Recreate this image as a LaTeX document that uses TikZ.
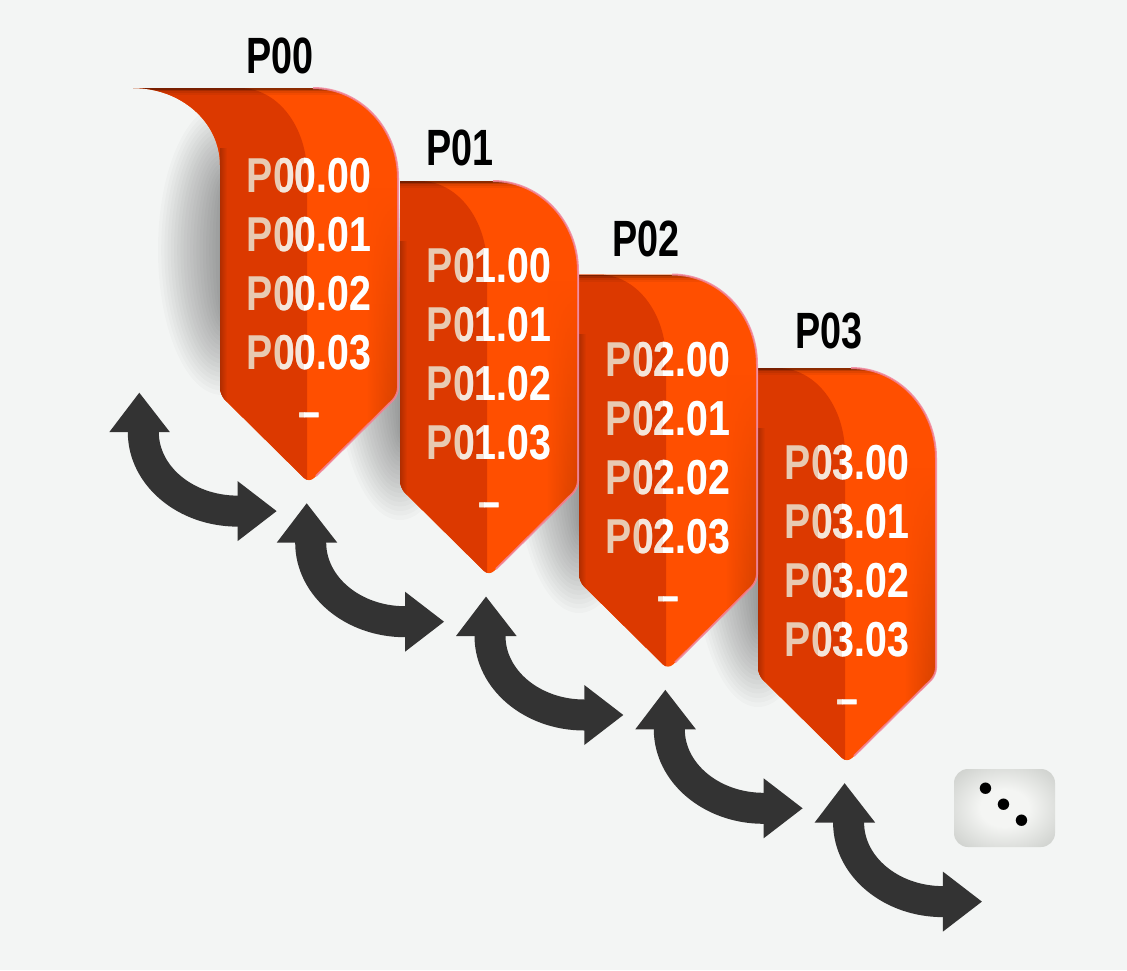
\documentclass[tikz,border=0pt]{standalone}
\usepackage{fontspec}
\usetikzlibrary{fadings}
\newfontfamily\itemfont{Liberation Sans}[FakeStretch=0.80]
\newfontfamily\labfont{Liberation Sans}[FakeStretch=0.74]
\definecolor{bgC}{HTML}{F3F5F4}
\definecolor{orangeB}{HTML}{FF4F00}
\definecolor{orangeD}{HTML}{DC3900}
\definecolor{stripeC}{HTML}{B02D00}
\definecolor{edgeC}{HTML}{D24000}
\definecolor{pinkC}{HTML}{F2849A}
\definecolor{beigeC}{HTML}{E8CAB2}
\definecolor{lightC}{HTML}{F4E5DA}
\definecolor{arrowC}{HTML}{333333}
\definecolor{diceIn}{HTML}{F4F5F3}
\definecolor{diceOut}{HTML}{C3C6C2}
\pgfdeclareradialshading{diceshade}{\pgfpoint{0bp}{0bp}}{color(0bp)=(diceIn); color(12bp)=(diceIn); color(40bp)=(diceOut); color(50bp)=(diceOut)}
\tikzfading[name=upfade, top color=transparent!100, bottom color=transparent!0]
\tikzset{
  itemtxt/.style={inner sep=0pt, anchor=north, align=center,
    font=\itemfont\bfseries\fontsize{49}{59}\selectfont},
  labtxt/.style={inner sep=0pt, text=black,
    font=\labfont\bfseries\fontsize{51}{51}\selectfont},
  arrowshaft/.style={draw=arrowC, line width=31pt},
  arrowhd/.style={fill=arrowC},
  shadowlayer/.style={fill=black, opacity=0.018},
}
% banner outlines (L = left edge, T = top edge)
\newcommand\shapeplain[2]{(#1,{#2+150}) [rounded corners=7pt] -- (#1,{#2+307}) -- ({#1+89},{#2+395}) -- ({#1+178},{#2+307}) -- ({#1+178},{#2+100}) [sharp corners] -- ({#1+178},{#2+90}) .. controls ({#1+178},{#2+40}) and ({#1+140},#2) .. ({#1+93},#2) -- (#1,#2) -- cycle}
\newcommand\shapecurl[2]{(#1,{#2+150}) [rounded corners=7pt] -- (#1,{#2+307}) -- ({#1+89},{#2+395}) -- ({#1+178},{#2+307}) -- ({#1+178},{#2+100}) [sharp corners] -- ({#1+178},{#2+90}) .. controls ({#1+178},{#2+40}) and ({#1+140},#2) .. ({#1+93},#2) -- ({#1-87},#2) .. controls ({#1-39},#2) and (#1,{#2+34}) .. (#1,{#2+77}) -- cycle}
\newcommand\drawbanner[3]{%
  \fill[orangeB] #3{#1}{#2};
  \begin{scope}
    \clip #3{#1}{#2};
    \fill[orangeD] ({#1+20},#2) .. controls ({#1+57},#2) and ({#1+87},{#2+38}) .. ({#1+87},{#2+86}) -- ({#1+87},{#2+420}) -- ({#1-120},{#2+420}) -- ({#1-120},{#2-2}) -- ({#1+20},{#2-2}) -- cycle;
    \shade[left color=stripeC, right color=orangeD] (#1,{#2+60}) rectangle ({#1+7},{#2+420});
    \shade[left color=orangeB, right color=edgeC, path fading=upfade] ({#1+146},{#2+100}) rectangle ({#1+179},{#2+330});
    \shade[left color=orangeB, right color=edgeC] ({#1+146},{#2+329}) rectangle ({#1+179},{#2+420});
    \draw[black, opacity=0.45, line width=1.5pt] ({#1-100},{#2+0.75}) -- ({#1+180},{#2+0.75});
    \draw[black, opacity=0.25, line width=1.5pt] ({#1-100},{#2+2.25}) -- ({#1+180},{#2+2.25});
    \draw[black, opacity=0.12, line width=2pt] ({#1-100},{#2+4}) -- ({#1+180},{#2+4});
    \draw[black, opacity=0.05, line width=2pt] ({#1-100},{#2+6}) -- ({#1+180},{#2+6});
  \end{scope}
  \draw[pinkC, opacity=0.85, line width=2pt] ({#1+93},#2) .. controls ({#1+140},#2) and ({#1+178},{#2+40}) .. ({#1+178},{#2+90}) -- ({#1+178},{#2+100}) [rounded corners=7pt] -- ({#1+178},{#2+307}) -- ({#1+96},{#2+388});
}
\newcommand\bannertext[4]{%
  \node[itemtxt, text=beigeC] (t#4a) at ({#1+89},{#2+#3}) {P#4.00\\P#4.01\\P#4.02\\P#4.03\\–};
  \begin{scope}
    \clip ({#1+60},{#2}) rectangle ({#1+84},{#2+420});
    \node[itemtxt, text=lightC] (t#4b) at ({#1+89},{#2+#3}) {P#4.00\\P#4.01\\P#4.02\\P#4.03\\–};
  \end{scope}
  \begin{scope}
    \clip ({#1+84},{#2}) rectangle ({#1+200},{#2+420});
    \node[itemtxt, text=white] (t#4c) at ({#1+89},{#2+#3}) {P#4.00\\P#4.01\\P#4.02\\P#4.03\\–};
  \end{scope}
}
\newcommand\curvedarrow[2]{%
  \begin{scope}[shift={(#1,#2)}]
    \draw[arrowshaft] (4,37) -- (4,39.4) .. controls (4,83) and (46.2,118.4) .. (98.3,118.4) -- (100,118.4);
    \fill[arrowhd] (-30,39.4) -- (0,0) -- (30.6,39.4) -- cycle;
    \fill[arrowhd] (98.3,88.4) -- (137.3,118.4) -- (98.3,148.4) -- cycle;
  \end{scope}
}
\begin{document}
\begin{tikzpicture}[x=1pt, y=-1pt]
  \fill[bgC] (0,0) rectangle (1127,970);
  \useasboundingbox (0,0) rectangle (1127,970);
  % soft shadows on the left of each banner
  \foreach \L/\C/\R in {222/250/55, 400/360/70, 579/453/70, 758/547/70} {
    \foreach \j in {1,...,20} {
      \fill[shadowlayer] (\L,\C) ellipse ({3.2*\j} and {\R+4.5*\j});
    }
  }
  % banners, back to front
  \drawbanner{758}{368}{\shapeplain}
  \bannertext{758}{368}{77}{03}
  \drawbanner{579}{274.5}{\shapeplain}
  \bannertext{579}{274.5}{68}{02}
  \drawbanner{400}{181}{\shapeplain}
  \bannertext{400}{181}{67}{01}
  \drawbanner{220}{88}{\shapecurl}
  \bannertext{220}{88}{70}{00}
  % titles
  \node[labtxt] (l0) at (280,56) {P00};
  \node[labtxt] (l1) at (460,148) {P01};
  \node[labtxt] (l2) at (646,239) {P02};
  \node[labtxt] (l3) at (829,331) {P03};
  % curved double arrows
  \curvedarrow{139.3}{392.7}
  \curvedarrow{306.7}{503.3}
  \curvedarrow{486}{596.6}
  \curvedarrow{665.3}{689.9}
  \curvedarrow{844.6}{783.2}
  % box with dots
  \path[shading=diceshade, rounded corners=14pt] (954,769) rectangle (1055,847);
  \node[inner sep=0pt, anchor=base, font=\bfseries\fontsize{80}{80}\selectfont] (dots) at (1004,826) {\raisebox{32pt}{.}\kern-7pt\raisebox{16pt}{.}\kern-7pt.};
\end{tikzpicture}
\end{document}
